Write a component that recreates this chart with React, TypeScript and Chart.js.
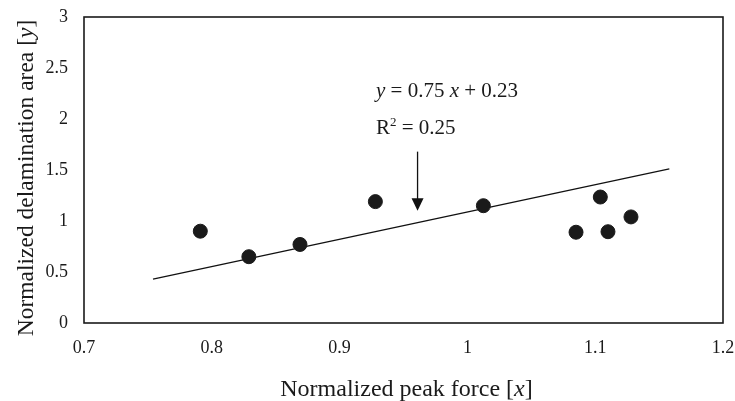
import React, { useEffect, useRef } from "react";
import { Chart, registerables } from "chart.js";

Chart.register(...registerables);

const forceX = [0.791, 0.829, 0.869, 0.928, 1.0125, 1.104, 1.085, 1.110, 1.128];
const areaY = [0.90, 0.65, 0.77, 1.19, 1.15, 1.235, 0.89, 0.895, 1.04];
const trendX = [0.754, 1.158];
const trendY = [0.43, 1.51];
const arrowX = [0.961, 0.961];
const arrowY = [1.68, 1.10];
const xTickStep = 0.1;
const yTickStep = 0.5;

const SERIF = "'Liberation Serif', 'Times New Roman', serif";

const fmt = (v: number) => String(Number(Number(v).toFixed(2)));

const drawParts = (ctx: any, parts: [string, boolean][], size: number, x: number, y: number, center: boolean) => {
  let total = 0;
  for (const [s, it] of parts) {
    ctx.font = `${it ? "italic " : ""}${size}px ${SERIF}`;
    total += ctx.measureText(s).width;
  }
  let p = center ? x - total / 2 : x;
  for (const [s, it] of parts) {
    ctx.font = `${it ? "italic " : ""}${size}px ${SERIF}`;
    ctx.fillText(s, p, y);
    p += ctx.measureText(s).width;
  }
};

const decorPlugin = {
  id: "decor",
  afterDraw(chart: any) {
    const { ctx, chartArea } = chart;
    const xs = chart.scales.x;
    const ys = chart.scales.y;
    ctx.save();
    // frame
    ctx.strokeStyle = "#1a1a1a";
    ctx.lineWidth = 1.6;
    ctx.strokeRect(chartArea.left, chartArea.top, chartArea.right - chartArea.left, chartArea.bottom - chartArea.top);

    // arrow
    const ax = xs.getPixelForValue(arrowX[0]);
    const ay0 = ys.getPixelForValue(arrowY[0]);
    const ay1 = ys.getPixelForValue(arrowY[1]);
    ctx.strokeStyle = "#111";
    ctx.lineWidth = 1.3;
    ctx.beginPath();
    ctx.moveTo(ax, ay0);
    ctx.lineTo(ax, ay1 - 10);
    ctx.stroke();
    ctx.fillStyle = "#111";
    ctx.beginPath();
    ctx.moveTo(ax - 6, ay1 - 12.5);
    ctx.lineTo(ax + 6, ay1 - 12.5);
    ctx.lineTo(ax, ay1);
    ctx.closePath();
    ctx.fill();

    // equation text
    ctx.fillStyle = "#1a1a1a";
    ctx.textAlign = "left";
    ctx.textBaseline = "alphabetic";
    const tx = 376;
    drawParts(ctx, [["y", true], [" = 0.75 ", false], ["x", true], [" + 0.23", false]], 21, tx, 97, false);
    ctx.font = `21px ${SERIF}`;
    ctx.fillText("R", tx, 134);
    const rw = ctx.measureText("R").width;
    ctx.font = `13px ${SERIF}`;
    ctx.fillText("2", tx + rw, 126);
    const sw = ctx.measureText("2").width;
    ctx.font = `21px ${SERIF}`;
    ctx.fillText(" = 0.25", tx + rw + sw, 134);

    // x title
    drawParts(ctx, [["Normalized peak force [", false], ["x", true], ["]", false]], 24, (chartArea.left + chartArea.right) / 2 + 3, 396, true);

    // y title
    ctx.translate(33, 178);
    ctx.rotate(-Math.PI / 2);
    drawParts(ctx, [["Normalized delamination area [", false], ["y", true], ["]", false]], 23.5, 0, 0, true);
    ctx.restore();
  },
};

const zeroPad = (s: any) => {
  s.paddingTop = 0;
  s.paddingBottom = 0;
  s.paddingLeft = 0;
  s.paddingRight = 0;
};

export default function App() {
  const ref = useRef<HTMLCanvasElement>(null);
  useEffect(() => {
    if (!ref.current) return;
    const chart = new Chart(ref.current, {
      type: "scatter",
      data: {
        datasets: [
          {
            label: "data",
            data: forceX.map((x, i) => ({ x, y: areaY[i] })),
            backgroundColor: "#1a1a1a",
            borderColor: "#1a1a1a",
            pointRadius: 7,
            pointHoverRadius: 7,
            showLine: false,
          },
          {
            label: "trend",
            data: trendX.map((x, i) => ({ x, y: trendY[i] })),
            type: "line",
            borderColor: "#111",
            borderWidth: 1.3,
            pointRadius: 0,
            fill: false,
          } as any,
        ],
      },
      options: {
        animation: false,
        responsive: false,
        events: [],
        layout: { padding: { top: 17, right: 12, left: 0, bottom: 0 } },
        plugins: { legend: { display: false }, tooltip: { enabled: false } },
        scales: {
          x: {
            type: "linear",
            min: 0.7,
            max: 1.2,
            grid: { display: false, drawTicks: false },
            border: { display: false },
            ticks: {
              stepSize: xTickStep,
              padding: 14,
              color: "#1a1a1a",
              font: { family: SERIF, size: 18 },
              callback: (v: any) => fmt(v),
            },
            afterFit: (s: any) => { s.height = 78; zeroPad(s); },
          },
          y: {
            type: "linear",
            min: 0,
            max: 3,
            grid: { display: false, drawTicks: false },
            border: { display: false },
            ticks: {
              stepSize: yTickStep,
              padding: 16,
              color: "#1a1a1a",
              font: { family: SERIF, size: 18 },
              callback: (v: any) => fmt(v),
            },
            afterFit: (s: any) => { s.width = 84; zeroPad(s); },
          },
        },
      },
      plugins: [decorPlugin],
    });
    return () => chart.destroy();
  }, []);
  return (
    <div style={{ position: "fixed", left: 0, top: 0, width: 735, height: 401, background: "#fff" }}>
      <canvas ref={ref} width={735} height={401} style={{ width: 735, height: 401 }} />
    </div>
  );
}
